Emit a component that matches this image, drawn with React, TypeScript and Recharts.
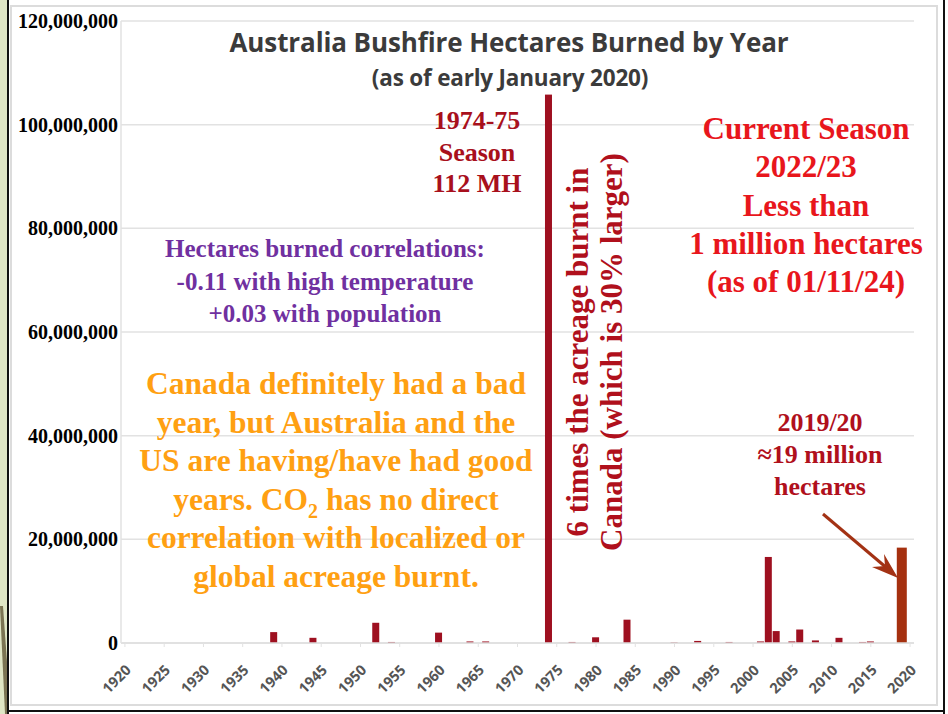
import React from "react";
import { BarChart, Bar, XAxis, YAxis, CartesianGrid } from "recharts";

// Categories: one per year on the x axis
const years: number[] = Array.from({ length: 101 }, (_, i) => 1920 + i);
// Fire seasons with visible burned area
const fireSeasons: number[] = [
  1939, 1944, 1952, 1954, 1960, 1964, 1966, 1974, 1977, 1980, 1984, 1990,
  1993, 1997, 2001, 2002, 2003, 2005, 2006, 2008, 2011, 2014, 2015, 2019,
];
const hectaresBurned: number[] = [
  2100000, 1000000, 3900000, 200000, 2000000, 300000, 300000, 105800000,
  200000, 1100000, 4500000, 100000, 400000, 200000, 300000, 16600000,
  2300000, 300000, 2600000, 500000, 1000000, 200000, 300000, 18400000,
];
const yTicks: number[] = [0, 20000000, 40000000, 60000000, 80000000, 100000000, 120000000];
const highlightYear = 2019;

const data = years.map((year) => {
  const idx = fireSeasons.indexOf(year);
  return { year, value: idx >= 0 ? hectaresBurned[idx] : 0 };
});

const SERIF = "'Liberation Serif', 'Times New Roman', serif";
const SANS = "'Open Sans', 'Liberation Sans', sans-serif";

const YTick = (props: any) => {
  const { y, payload } = props;
  return (
    <text
      x={118}
      y={y}
      textAnchor="end"
      dominantBaseline="central"
      fontFamily={SERIF}
      fontWeight="bold"
      fontSize={20}
      fill="#000"
    >
      {payload.value === 0 ? "0" : payload.value.toLocaleString("en-US")}
    </text>
  );
};

const XTick = (props: any) => {
  const { x, y, payload } = props;
  const ax = x + 7;
  const ay = y + 22;
  return (
    <text
      x={ax}
      y={ay}
      textAnchor="end"
      transform={`rotate(-45, ${ax}, ${ay})`}
      fontFamily={SANS}
      fontWeight="bold"
      fontSize={14.5}
      fill="#555"
    >
      {payload.value}
    </text>
  );
};

const BarShape = (props: any) => {
  const { x, y, width, height, payload } = props;
  if (!height || height <= 0) return null;
  if (payload.year === highlightYear) {
    return <rect x={x - 1.5} y={y} width={width + 3} height={height} fill="#a5300f" />;
  }
  return <rect x={x} y={y} width={width} height={height} fill="#9e1020" />;
};

const abs = (style: React.CSSProperties): React.CSSProperties => ({
  position: "absolute",
  whiteSpace: "nowrap",
  textAlign: "center",
  transform: "translate(-50%, -50%)",
  fontWeight: "bold",
  ...style,
});

export default function App() {
  return (
    <div style={{ position: "relative", width: 948, height: 714, background: "#fff", overflow: "hidden" }}>
      <style>{`body{margin:0}`}</style>
      {/* frame decorations */}
      <svg width={948} height={714} style={{ position: "absolute", left: 0, top: 0 }}>
        <rect x={0} y={0} width={8} height={714} fill="#dfe6c5" />
        <polygon points="0,606 3,606 9,690 9,714 5,714" fill="#7b7453" />
        <rect x={11} y={6} width={926} height={699} fill="none" stroke="#dcdcdc" strokeWidth={2} />
        <line x1={8} y1={0} x2={8} y2={714} stroke="#111" strokeWidth={2} />
        <line x1={944} y1={0} x2={944} y2={714} stroke="#111" strokeWidth={2} />
        <line x1={8} y1={711} x2={945} y2={711} stroke="#111" strokeWidth={2} />
      </svg>
      <div style={{ position: "absolute", left: 0, top: 0 }}>
        <BarChart
          width={948}
          height={714}
          data={data}
          margin={{ top: 21, right: 34, bottom: 0, left: 0 }}
          barCategoryGap={0}
        >
          <CartesianGrid vertical={false} stroke="#e2e2e2" strokeWidth={1.5} />
          <XAxis
            dataKey="year"
            interval={4}
            height={71}
            tick={<XTick />}
            tickLine={{ stroke: "#e2e2e2" }}
            tickSize={4}
            axisLine={{ stroke: "#dedede", strokeWidth: 1.5 }}
          />
          <YAxis
            width={121}
            domain={[0, 120000000]}
            ticks={yTicks}
            tick={<YTick />}
            tickLine={false}
            axisLine={{ stroke: "#e2e2e2", strokeWidth: 1.5 }}
          />
          <Bar dataKey="value" barSize={7} shape={<BarShape />} isAnimationActive={false} />
        </BarChart>
      </div>
      {/* overlay texts */}
      <div style={abs({ left: 509, top: 42, fontFamily: SANS, fontSize: 26, color: "#3b3b3b", letterSpacing: -0.1 })}>
        Australia Bushfire Hectares Burned by Year
      </div>
      <div style={abs({ left: 510, top: 77, fontFamily: SANS, fontSize: 22.5, color: "#3b3b3b", letterSpacing: -0.2 })}>
        (as of early January 2020)
      </div>
      <div style={abs({ left: 477, top: 152, fontFamily: SERIF, fontSize: 26, lineHeight: "31.5px", color: "#a8101c" })}>
        1974-75
        <br />
        Season
        <br />
        112 MH
      </div>
      <div style={abs({ left: 806, top: 206, fontFamily: SERIF, fontSize: 31, lineHeight: "38.3px", color: "#e8161c" })}>
        Current Season
        <br />
        2022/23
        <br />
        Less than
        <br />
        1 million hectares
        <br />
        (as of 01/11/24)
      </div>
      <div style={abs({ left: 325, top: 282, fontFamily: SERIF, fontSize: 25, lineHeight: "32.5px", color: "#7030a0" })}>
        Hectares burned correlations:
        <br />
        -0.11 with high temperature
        <br />
        +0.03 with population
      </div>
      <div style={abs({ left: 336, top: 481, fontFamily: SERIF, fontSize: 31.5, lineHeight: "38.6px", color: "#ffa012" })}>
        Canada definitely had a bad
        <br />
        year, but Australia and the
        <br />
        US are having/have had good
        <br />
        years. CO<sub style={{ fontSize: 20, lineHeight: 0 }}>2</sub> has no direct
        <br />
        correlation with localized or
        <br />
        global acreage burnt.
      </div>
      <div
        style={{
          position: "absolute",
          left: 595,
          top: 352,
          transform: "translate(-50%, -50%) rotate(-90deg)",
          whiteSpace: "nowrap",
          textAlign: "center",
          fontFamily: SERIF,
          fontWeight: "bold",
          fontSize: 31,
          lineHeight: "34px",
          color: "#b0101c",
        }}
      >
        6 times the acreage burnt in
        <br />
        Canada (which is 30% larger)
      </div>
      <div style={abs({ left: 820, top: 455, fontFamily: SERIF, fontSize: 26, lineHeight: "32px", color: "#b0101c" })}>
        2019/20
        <br />
        ≈19 million
        <br />
        hectares
      </div>
      <svg width={948} height={714} style={{ position: "absolute", left: 0, top: 0, pointerEvents: "none" }}>
        <line x1={823} y1={514} x2={888} y2={569} stroke="#a33214" strokeWidth={3} />
        <polygon points="898,578 872,567 885,566 884,554" fill="#a33214" />
      </svg>
    </div>
  );
}
